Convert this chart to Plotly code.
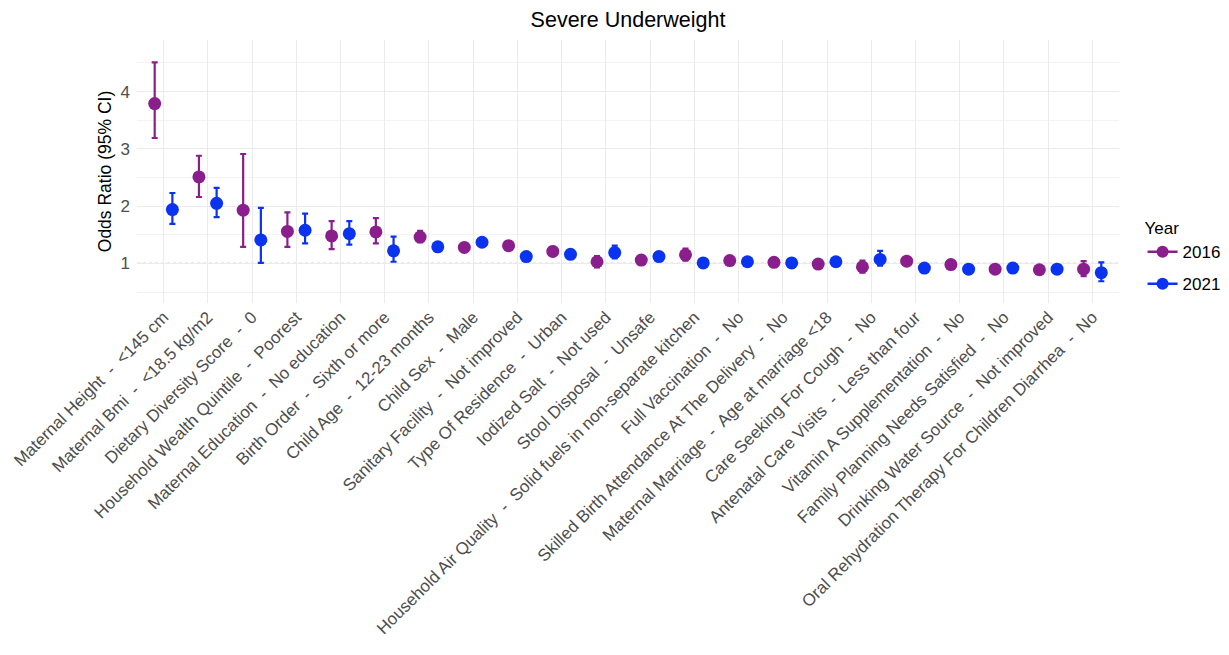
import plotly.graph_objects as go

S = " \u00a0-\u00a0 "
labels = [
    "Maternal Height" + S + "<145 cm",
    "Maternal Bmi" + S + "<18.5 kg/m2",
    "Dietary Diversity Score" + S + "0",
    "Household Wealth Quintile" + S + "Poorest",
    "Maternal Education" + S + "No education",
    "Birth Order" + S + "Sixth or more",
    "Child Age" + S + "12-23 months",
    "Child Sex" + S + "Male",
    "Sanitary Facility" + S + "Not improved",
    "Type Of Residence" + S + "Urban",
    "Iodized Salt" + S + "Not used",
    "Stool Disposal" + S + "Unsafe",
    "Household Air Quality" + S + "Solid fuels in non-separate kitchen",
    "Full Vaccination" + S + "No",
    "Skilled Birth Attendance At The Delivery" + S + "No",
    "Maternal Marriage" + S + "Age at marriage <18",
    "Care Seeking For Cough" + S + "No",
    "Antenatal Care Visits" + S + "Less than four",
    "Vitamin A Supplementation" + S + "No",
    "Family Planning Needs Satisfied" + S + "No",
    "Drinking Water Source" + S + "Not improved",
    "Oral Rehydration Therapy For Children Diarrhea" + S + "No",
]

or_2016 = [3.79, 2.51, 1.93, 1.56, 1.48, 1.55, 1.46, 1.28, 1.31, 1.21, 1.03, 1.06, 1.15, 1.05, 1.02, 0.99, 0.94, 1.04, 0.98, 0.90, 0.89, 0.90]
lo_2016 = [3.19, 2.16, 1.29, 1.29, 1.25, 1.35, 1.37, 1.24, 1.24, 1.14, 0.93, 1.01, 1.05, 1.00, 0.97, 0.94, 0.84, 0.99, 0.93, 0.86, 0.84, 0.78]
hi_2016 = [4.51, 2.88, 2.91, 1.89, 1.74, 1.79, 1.57, 1.33, 1.39, 1.29, 1.13, 1.12, 1.26, 1.10, 1.07, 1.04, 1.05, 1.10, 1.04, 0.95, 0.94, 1.04]

or_2021 = [1.94, 2.05, 1.41, 1.58, 1.52, 1.22, 1.29, 1.37, 1.12, 1.16, 1.19, 1.12, 1.01, 1.03, 1.01, 1.03, 1.07, 0.92, 0.90, 0.92, 0.90, 0.84]
lo_2021 = [1.69, 1.81, 1.01, 1.35, 1.33, 1.03, 1.24, 1.32, 1.07, 1.10, 1.09, 1.08, 0.97, 0.99, 0.97, 0.99, 0.96, 0.88, 0.86, 0.88, 0.86, 0.69]
hi_2021 = [2.23, 2.32, 1.97, 1.87, 1.74, 1.47, 1.35, 1.43, 1.17, 1.23, 1.31, 1.17, 1.06, 1.08, 1.05, 1.07, 1.22, 0.97, 0.95, 0.97, 0.95, 1.02]

years = ["2016", "2021"]
colors = {"2016": "#8A1E8C", "2021": "#0A33F0"}
dodge = {"2016": -0.2, "2021": 0.2}
series = {"2016": (or_2016, lo_2016, hi_2016), "2021": (or_2021, lo_2021, hi_2021)}

FONT = "Liberation Sans, Arial, Helvetica, sans-serif"
fig = go.Figure()
idx = list(range(len(labels)))
for yr in years:
    o, lo, hi = series[yr]
    c = colors[yr]
    fig.add_trace(go.Scatter(
        x=[i + dodge[yr] for i in idx], y=o, mode="markers",
        marker=dict(color=c, size=13),
        error_y=dict(type="data", symmetric=False,
                     array=[h - v for h, v in zip(hi, o)],
                     arrayminus=[v - l for v, l in zip(o, lo)],
                     color=c, thickness=2.2, width=3),
        showlegend=False, name=yr))
for yr in years:
    fig.add_trace(go.Scatter(x=[None], y=[None], mode="lines+markers", name=yr,
                             legendgroup=yr,
                             line=dict(color=colors[yr], width=2.5),
                             marker=dict(color=colors[yr], size=12)))

fig.add_shape(type="line", xref="paper", yref="y", x0=0, x1=1, y0=1, y1=1,
              line=dict(color="#B3B3B3", width=1.2, dash="dot"), layer="below")

# page body has an 8px margin: figure is drawn 8px right / 8px down
fig.update_layout(
    width=1221, height=647,
    margin=dict(l=129, r=110, t=32, b=352, autoexpand=False),
    paper_bgcolor="white", plot_bgcolor="white",
    font=dict(family=FONT, color="#4D4D4D"),
    title=dict(text="Severe Underweight", x=0.5, xref="paper", xanchor="center",
               y=1 - 11.5 / 647, yref="container", yanchor="middle",
               font=dict(size=21.5, color="black", family=FONT)),
    xaxis=dict(range=[-0.6, len(labels) - 0.4], tickvals=idx, ticktext=labels,
               tickangle=-45, tickfont=dict(size=17, color="#4D4D4D"),
               showgrid=True, gridcolor="#EBEBEB", gridwidth=1.1, zeroline=False,
               showline=False, ticks="", automargin=False),
    yaxis=dict(range=[0.31, 4.90], tickvals=[1, 2, 3, 4],
               tickfont=dict(size=17, color="#4D4D4D"), ticklabelstandoff=6,
               showgrid=True, gridcolor="#EBEBEB", gridwidth=1.1, zeroline=False,
               minor=dict(tickvals=[0.5, 1.5, 2.5, 3.5, 4.5], showgrid=True,
                          gridcolor="#F3F3F3", gridwidth=1),
               title=dict(text="Odds Ratio (95% CI)", font=dict(size=17.5, color="black"),
                          standoff=4),
               ticks="", automargin=False),
    legend=dict(title=dict(text="Year", font=dict(size=17, color="black")),
                font=dict(size=17, color="black"), x=1.024, xanchor="left",
                y=0.346, yanchor="top", tracegroupgap=7, itemwidth=30),
)

fig.write_html("out.html")
